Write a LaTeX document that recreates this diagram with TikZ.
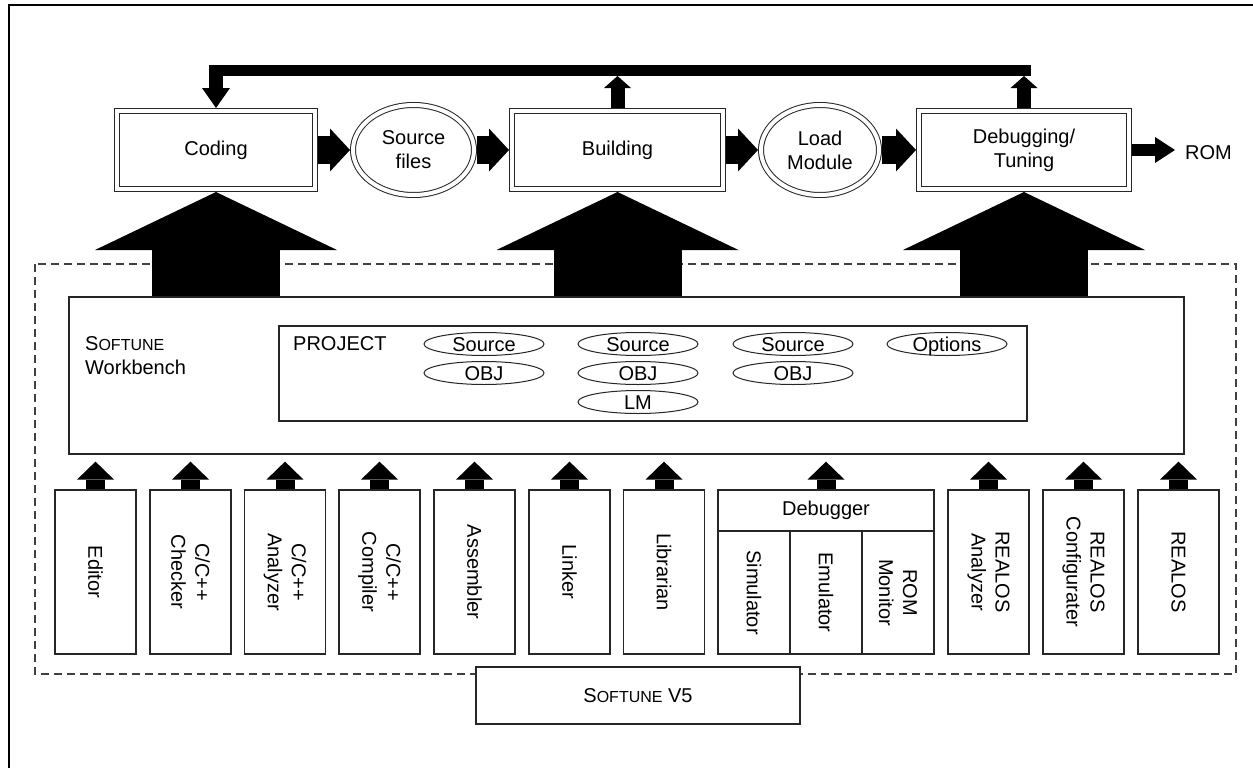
\documentclass[tikz,border=0pt]{standalone}
\usepackage{fontspec}
\setmainfont{Liberation Sans}
\usetikzlibrary{arrows.meta,shapes.geometric}
\newcommand{\mysc}[1]{{\fontsize{16}{24}\selectfont #1}}
\begin{document}
\begin{tikzpicture}[x=1pt,y=-1pt,
  font=\fontsize{20}{24}\selectfont,
  frame/.style={line width=2.5pt, black},
  dashbox/.style={draw=black!75, line width=1.1pt, dash pattern=on 8pt off 5pt},
  box/.style={draw=black!85, line width=1.2pt, fill=white, inner sep=0pt, outer sep=0.6pt},
  dbox/.style={draw=black!85, line width=1pt, double=white, double distance=4pt, inner sep=0pt, outer sep=3pt, align=center},
  dell/.style={dbox, ellipse},
  tool/.style={box, rotate=-90, minimum width=164pt, minimum height=81pt, align=center},
  subtool/.style={box, rotate=-90, minimum width=123pt, minimum height=72pt, align=center},
  pell/.style={draw=black!85, line width=1pt, ellipse, minimum width=120pt, minimum height=23pt, inner sep=0pt},
  harrow/.style={line width=28pt, -{Triangle[length=20pt,width=43pt,line width=0pt]}},
  romarrow/.style={line width=12pt, -{Triangle[length=20pt,width=26pt,line width=0pt]}},
  downarrow/.style={line width=14pt, -{Triangle[length=20pt,width=28pt,line width=0pt]}},
  uparrow/.style={line width=14pt, -{Triangle[length=12pt,width=27pt,line width=0pt]}},
  bigarrow/.style={line width=128pt, -{Triangle[length=58pt,width=242pt,line width=0pt]}},
  smallarrow/.style={line width=19pt, shorten >=7pt, -{Triangle[length=18pt,width=37pt,line width=0pt]}}
]
\useasboundingbox (0,0) rectangle (1253,768);
\fill[white] (0,0) rectangle (1253,768);
\draw[frame] (9,768) -- (9,5) -- (1253,5);

% dashed region
\draw[dashbox] (35,264) rectangle (1236,674);

% top process row
\node[dbox, minimum width=198pt, minimum height=78pt] (coding) at (216,150) {Coding};
\node[dell, minimum width=121pt, minimum height=90pt] (src) at (413.5,150) {Source\\files};
\node[dbox, minimum width=211pt, minimum height=78pt] (build) at (617.5,150) {Building};
\node[dell, minimum width=118pt, minimum height=90pt] (lm) at (820,150) {Load\\Module};
\node[dbox, minimum width=210pt, minimum height=78pt] (dbg) at (1024,150) {Debugging/\\Tuning};
\node[inner sep=0pt, anchor=west] (rom) at (1185,153) {ROM};

% feedback loop
\coordinate (fbL) at (209,70.5);
\coordinate (fbR) at (1031,70.5);
\coordinate (fbTop) at (0,65);
\coordinate (fbBot) at (0,76);
\draw[line width=11pt] (fbL) -- (fbR);
\draw[downarrow] (coding.north |- fbTop) -- (coding.north);
\draw[uparrow] (build.north) -- (build.north |- fbBot);
\draw[uparrow] (dbg.north) -- (dbg.north |- fbBot);

% horizontal block arrows
\draw[harrow] (coding.east) -- (src.west);
\draw[harrow] (src.east) -- (build.west);
\draw[harrow] (build.east) -- (lm.west);
\draw[harrow] (lm.east) -- (dbg.west);
\draw[romarrow, shorten >=10pt] (dbg.east) -- (dbg.east -| rom.west);

% workbench
\node[box, minimum width=1115pt, minimum height=157pt] (wb) at (626.5,375.5) {};
\node[anchor=west, align=left, inner sep=0pt] (wbt) at (85,356) {S\mysc{OFTUNE}\\Workbench};
\node[box, minimum width=748pt, minimum height=95pt] (proj) at (653,373.5) {};
\node[anchor=west, inner sep=0pt] (projt) at (293,344) {PROJECT};

\node[pell] (s1) at (484,344) {\raisebox{-7pt}[0pt][0pt]{Source}};
\node[pell] (o1) at (484,373) {\raisebox{-7pt}[0pt][0pt]{OBJ}};
\node[pell] (s2) at (638,344) {\raisebox{-7pt}[0pt][0pt]{Source}};
\node[pell] (o2) at (638,373) {\raisebox{-7pt}[0pt][0pt]{OBJ}};
\node[pell] (l2) at (638,402) {\raisebox{-7pt}[0pt][0pt]{LM}};
\node[pell] (s3) at (793,344) {\raisebox{-7pt}[0pt][0pt]{Source}};
\node[pell] (o3) at (793,373) {\raisebox{-7pt}[0pt][0pt]{OBJ}};
\node[pell] (opt) at (947,344) {\raisebox{-7pt}[0pt][0pt]{Options}};

% big arrows from workbench
\draw[bigarrow] (coding.south |- wb.north) -- (coding.south);
\draw[bigarrow] (build.south |- wb.north) -- (build.south);
\draw[bigarrow] (dbg.south |- wb.north) -- (dbg.south);

% tools
\node[tool] (ed) at (95.5,572) {Editor};
\node[tool] (chk) at (190.5,572) {C/C++\\Checker};
\node[tool] (ana) at (285,572) {C/C++\\Analyzer};
\node[tool] (cmp) at (379.5,572) {C/C++\\Compiler};
\node[tool] (asm) at (474.5,572) {Assembler};
\node[tool] (lnk) at (569.5,572) {Linker};
\node[tool] (lib) at (664,572) {Librarian};
\node[box, minimum width=216pt, minimum height=41pt] (dbgr) at (826,510.5) {Debugger};
\node[subtool] (sim) at (754,592.5) {Simulator};
\node[subtool] (emu) at (826,592.5) {Emulator};
\node[subtool] (rmon) at (898,592.5) {ROM\\Monitor};
\node[tool] (ran) at (988.5,572) {REALOS\\Analyzer};
\node[tool] (rcf) at (1083.5,572) {REALOS\\Configurater};
\node[tool] (rea) at (1178.5,572) {REALOS};

\foreach \n in {ed,chk,ana,cmp,asm,lnk,lib,ran,rcf,rea}
  \draw[smallarrow] (\n.west) -- (\n.west |- wb.south);
\draw[smallarrow] (dbgr.north) -- (dbgr.north |- wb.south);

% product box
\node[box, minimum width=324pt, minimum height=57pt] (sv5) at (638,695.5) {S\mysc{OFTUNE} V5};
\end{tikzpicture}
\end{document}
